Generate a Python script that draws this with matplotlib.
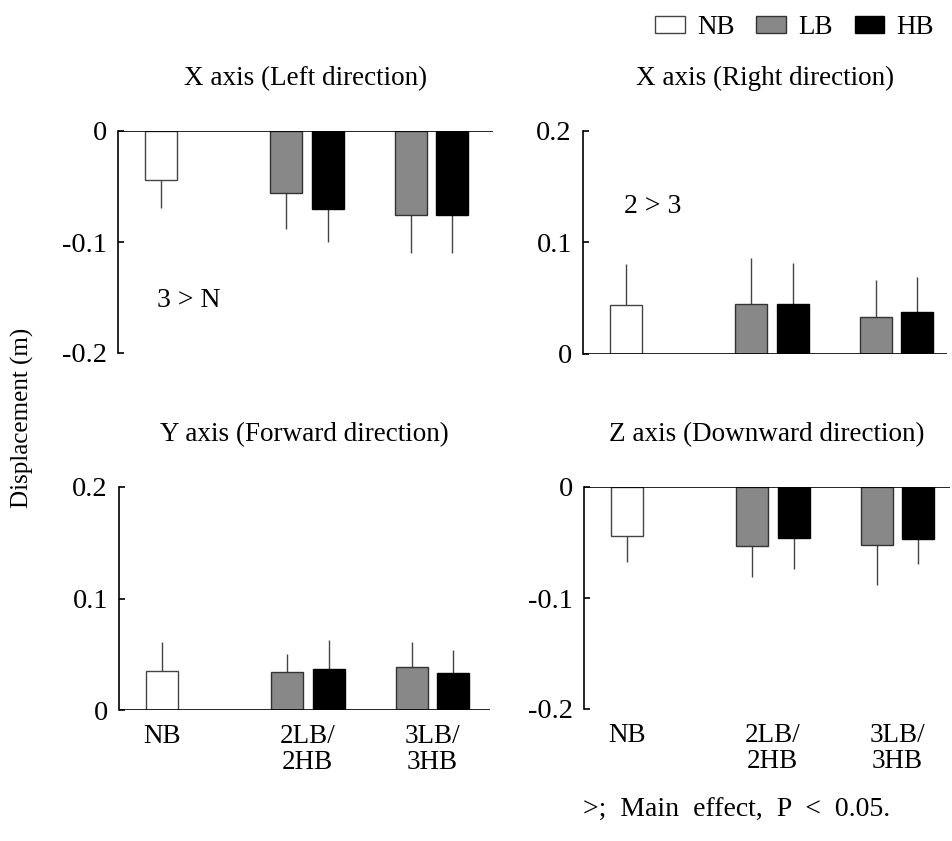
import numpy as np
import matplotlib
matplotlib.use("Agg")
import matplotlib.pyplot as plt
from matplotlib.patches import Patch

plt.rcParams['font.family'] = ['Liberation Serif', 'DejaVu Serif']
plt.rcParams['font.size'] = 19.5

# ---- data ----
groups = ['NB', '2LB/\n2HB', '3LB/\n3HB']
titles = ['X axis (Left direction)', 'X axis (Right direction)',
          'Y axis (Forward direction)', 'Z axis (Downward direction)']
ylims = [(-0.2, 0), (0, 0.2), (0, 0.2), (-0.2, 0)]
yticks = [[0, -0.1, -0.2], [0.2, 0.1, 0], [0.2, 0.1, 0], [0, -0.1, -0.2]]
yticklabels = [['0', '-0.1', '-0.2'], ['0.2', '0.1', '0'],
               ['0.2', '0.1', '0'], ['0', '-0.1', '-0.2']]

nb_mean = [-0.044, 0.0435, 0.0353, -0.0438]
nb_err = [0.025, 0.037, 0.0255, 0.024]
# per panel: [2LB, 3LB]
lb_mean = [[-0.056, -0.076], [0.0447, 0.0333], [0.0339, 0.0384], [-0.0534, -0.0519]]
lb_err = [[0.032, 0.034], [0.041, 0.033], [0.016, 0.023], [0.028, 0.0365]]
# per panel: [2HB, 3HB]
hb_mean = [[-0.070, -0.0753], [0.0447, 0.0375], [0.0371, 0.0335], [-0.0456, -0.0468]]
hb_err = [[0.030, 0.035], [0.037, 0.032], [0.0255, 0.020], [0.028, 0.023]]

annotations = {0: '3 > N', 1: '2 > 3'}
ann_pos = {0: (1.18, -0.153), 1: (1.24, 0.132)}

conditions = ['NB', 'LB', 'HB']
face = {'NB': 'white', 'LB': '#888888', 'HB': 'black'}
edge = {'NB': '#444444', 'LB': '#333333', 'HB': 'black'}

# ---- layout (pixels of a 953x841 figure) ----
W, H = 953, 841
boxes = [(118, 131, 375, 222), (583, 131, 364, 223),
         (119, 487, 371, 223), (584, 487, 366, 222)]
px_unit = 33.0
centers = np.array([1.30, 5.72, 9.50])
off = 0.63
bw = 0.97

fig = plt.figure(figsize=(W / 100, H / 100), dpi=100)


def one_sided(vals, errs):
    vals = np.asarray(vals)
    errs = np.asarray(errs)
    lower = np.where(vals < 0, errs, 0)
    upper = np.where(vals >= 0, errs, 0)
    return [lower, upper]


for i, (x0, y0, w, h) in enumerate(boxes):
    ax = fig.add_axes([x0 / W, 1 - (y0 + h) / H, w / W, h / H])
    ax.set_xlim(0, w / px_unit)
    ax.set_ylim(*ylims[i])

    # NB bar
    ax.bar(centers[0], nb_mean[i], bw, color=face['NB'], edgecolor=edge['NB'], lw=1, zorder=2)
    ax.errorbar(centers[0], nb_mean[i], yerr=one_sided([nb_mean[i]], [nb_err[i]]),
                fmt='none', ecolor='#444444', elinewidth=1, capsize=0, zorder=1)
    # LB / HB bars
    xs_lb = centers[1:] - off
    xs_hb = centers[1:] + off
    ax.bar(xs_lb, lb_mean[i], bw, color=face['LB'], edgecolor=edge['LB'], lw=1, zorder=2)
    ax.errorbar(xs_lb, lb_mean[i], yerr=one_sided(lb_mean[i], lb_err[i]),
                fmt='none', ecolor='#444444', elinewidth=1, capsize=0, zorder=1)
    ax.bar(xs_hb, hb_mean[i], bw, color=face['HB'], edgecolor=edge['HB'], lw=1, zorder=2)
    ax.errorbar(xs_hb, hb_mean[i], yerr=one_sided(hb_mean[i], hb_err[i]),
                fmt='none', ecolor='#444444', elinewidth=1, capsize=0, zorder=1)

    ax.axhline(0, color='black', lw=1.2, zorder=3)
    for s in ['top', 'right', 'bottom']:
        ax.spines[s].set_visible(False)
    ax.spines['left'].set_linewidth(1.2)

    ax.set_yticks(yticks[i])
    ax.set_yticklabels(yticklabels[i])
    ax.tick_params(axis='y', direction='in', length=4, width=1.2, pad=8, labelsize=20.5)
    ax.tick_params(axis='x', length=0, pad=10, labelsize=19.5)
    if i >= 2:
        ax.set_xticks(centers)
        ax.set_xticklabels(groups, linespacing=1.05)
    else:
        ax.set_xticks([])

    ax.set_title(titles[i], fontsize=19.5, pad=33)

    if i in annotations:
        ax.text(*ann_pos[i], annotations[i], ha='left', va='center', fontsize=20)

fig.text(22 / W, 1 - 418 / H, 'Displacement (m)', rotation=90,
         ha='center', va='center', fontsize=18)

handles = [Patch(facecolor=face[c], edgecolor=edge[c], lw=1) for c in conditions]
fig.legend(handles, conditions, loc='upper right', bbox_to_anchor=(945 / W, 1 - 4 / H),
           ncol=3, frameon=False, fontsize=19.5, handlelength=1.1, handleheight=0.6,
           handletextpad=0.45, columnspacing=0.8, borderaxespad=0)

fig.text(583 / W, 1 - 810 / H, '>;  Main  effect,  P  <  0.05.', ha='left',
         va='center', fontsize=20)

fig.savefig('out.png', dpi=100)
